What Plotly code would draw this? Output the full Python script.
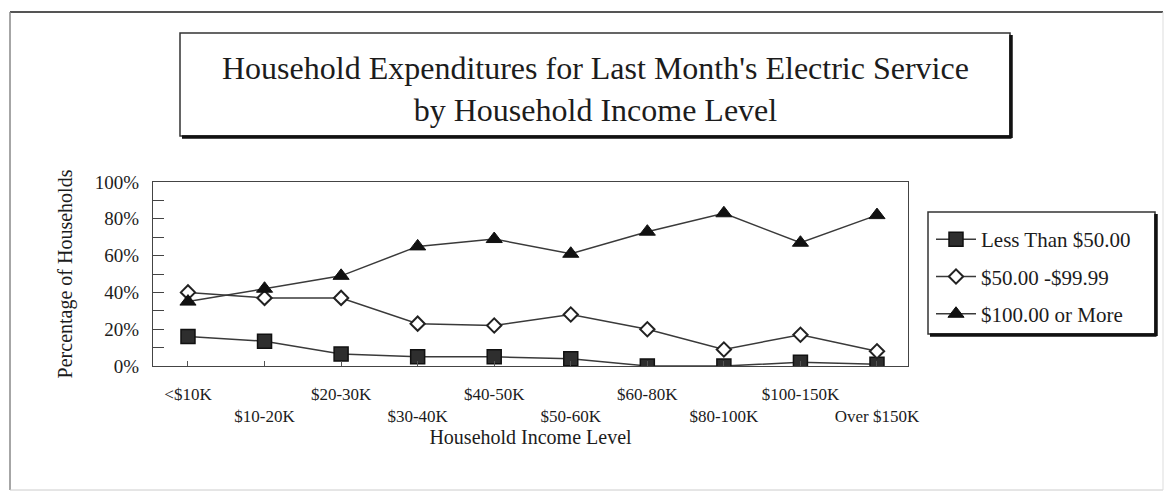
import plotly.graph_objects as go

# Household income brackets (x categories)
income_levels = ["<$10K", "$10-20K", "$20-30K", "$30-40K", "$40-50K",
                 "$50-60K", "$60-80K", "$80-100K", "$100-150K", "Over $150K"]

# Share of households (%) by last month's electric bill
less_than_50 = [16, 13.5, 6.5, 5, 5, 4, 0, 0, 2, 1]
from_50_to_99 = [40, 37, 37, 23, 22, 28, 20, 9, 17, 8]
over_100 = [35, 42, 49, 65, 69, 61, 73, 83, 67, 82]

series_names = ["Less Than $50.00", "$50.00 -$99.99", "$100.00 or More"]

# Y-axis ticks every 10%, labelled every 20%
y_tick_values = [0, 10, 20, 30, 40, 50, 60, 70, 80, 90, 100]
y_tick_labels = ["0%", "", "20%", "", "40%", "", "60%", "", "80%", "", "100%"]

# X tick labels staggered over two rows
x_tick_labels = [lab if i % 2 == 0 else "<br>" + lab for i, lab in enumerate(income_levels)]

W, H = 1169, 492
L, R, T, B = 153, 908, 182, 366   # plot area in pixels


def px(x):
    return (x - L) / (R - L)


def py(y):
    return (B - y) / (B - T)


SERIF = "Liberation Serif, Times New Roman, serif"
INK = "#1c1c1c"
LINE = "#3a3a3a"

fig = go.Figure()

fig.add_trace(go.Scatter(
    x=list(range(len(income_levels))), y=less_than_50, name=series_names[0],
    mode="lines+markers", legendgroup="a",
    line=dict(color=LINE, width=1.5),
    marker=dict(symbol="square", size=14, color="#2e2e2e", line=dict(color="#111", width=1.5)),
))
fig.add_trace(go.Scatter(
    x=list(range(len(income_levels))), y=from_50_to_99, name=series_names[1],
    mode="lines+markers", legendgroup="b",
    line=dict(color=LINE, width=1.5),
    marker=dict(symbol="diamond", size=11, color="white", line=dict(color="#222", width=2)),
))
fig.add_trace(go.Scatter(
    x=list(range(len(income_levels))), y=over_100, name=series_names[2],
    mode="lines+markers", legendgroup="c",
    line=dict(color=LINE, width=1.5),
    marker=dict(symbol="triangle-up", size=14, color="#111", line=dict(color="#111", width=1)),
))

shapes = []
# outer frame
shapes.append(dict(type="line", xref="paper", yref="paper", x0=px(10), x1=px(1163), y0=py(12), y1=py(12),
                   line=dict(color="#555", width=2)))
shapes.append(dict(type="line", xref="paper", yref="paper", x0=px(10), x1=px(10), y0=py(12), y1=py(490),
                   line=dict(color="#888", width=1.5)))
shapes.append(dict(type="line", xref="paper", yref="paper", x0=px(10), x1=px(1163), y0=py(490), y1=py(490),
                   line=dict(color="#ccc", width=1)))
shapes.append(dict(type="line", xref="paper", yref="paper", x0=px(1163), x1=px(1163), y0=py(12), y1=py(490),
                   line=dict(color="#ddd", width=1)))


def boxed(x0, y0, x1, y1):
    """Rectangle with a heavy drop-shadow edge on the right and bottom."""
    out = [dict(type="rect", xref="paper", yref="paper", x0=px(x0), x1=px(x1), y0=py(y0), y1=py(y1),
                line=dict(color="#333", width=1.5), fillcolor="white", layer="below")]
    out.append(dict(type="line", xref="paper", yref="paper", x0=px(x0 + 2), x1=px(x1 + 1.5),
                    y0=py(y1 + 1), y1=py(y1 + 1), line=dict(color="#111", width=3.5)))
    out.append(dict(type="line", xref="paper", yref="paper", x0=px(x1 + 1), x1=px(x1 + 1),
                    y0=py(y0 + 2), y1=py(y1 + 2), line=dict(color="#111", width=3.5)))
    return out


shapes += boxed(180, 33, 1010, 136)   # title box
shapes += boxed(928, 212, 1155, 334)  # legend box

fig.update_layout(
    width=W, height=H,
    margin=dict(l=L, r=W - R, t=T, b=H - B, pad=0),
    paper_bgcolor="white", plot_bgcolor="white",
    font=dict(family=SERIF, color=INK),
    showlegend=True,
    legend=dict(
        x=px(931), y=py(219), xanchor="left", yanchor="top",
        bgcolor="rgba(0,0,0,0)", borderwidth=0,
        font=dict(family=SERIF, size=21, color=INK),
        tracegroupgap=7, itemsizing="trace", itemwidth=40,
    ),
    shapes=shapes,
    annotations=[dict(
        text="Household Expenditures for Last Month's Electric Service<br>by Household Income Level",
        xref="paper", yref="paper", x=px(595), y=py(89), xanchor="center", yanchor="middle",
        showarrow=False, font=dict(family=SERIF, size=32, color=INK),
    )],
    xaxis=dict(
        range=[-0.457, 9.405], tickmode="array",
        tickvals=list(range(len(income_levels))), ticktext=x_tick_labels,
        tickangle=0,
        ticks="inside", ticklen=5, tickcolor="#555", tickwidth=1,
        showline=True, mirror=True, linecolor="#444", linewidth=1.3,
        showgrid=False, zeroline=False, ticklabelstandoff=12,
        tickfont=dict(family=SERIF, size=17, color=INK),
        title=dict(text="Household Income Level", font=dict(family=SERIF, size=20, color=INK), standoff=5),
    ),
    yaxis=dict(
        range=[0, 100], tickmode="array", tickvals=y_tick_values, ticktext=y_tick_labels,
        ticks="inside", ticklen=11, tickcolor="#444", tickwidth=1.2,
        showline=True, mirror=True, linecolor="#444", linewidth=1.3,
        showgrid=False, zeroline=False, ticklabelstandoff=9,
        tickfont=dict(family=SERIF, size=19, color=INK),
        title=dict(text="Percentage of Households", font=dict(family=SERIF, size=20, color=INK), standoff=16),
    ),
)

fig.write_html("out.html")
